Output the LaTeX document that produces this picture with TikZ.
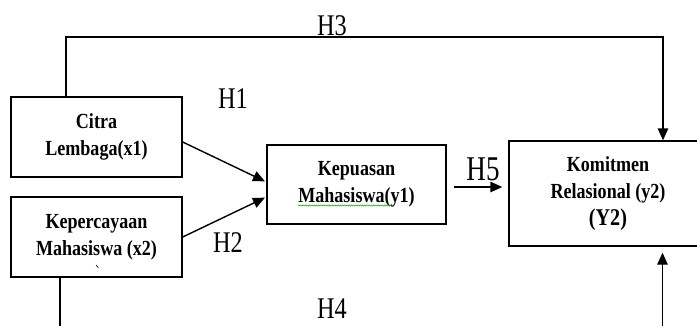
\documentclass[tikz,border=0pt]{standalone}
\usepackage{fontspec}
\usetikzlibrary{arrows.meta,calc,decorations.pathmorphing}
\setmainfont{Liberation Serif}
\newfontfamily\boxfont[FakeStretch=0.84]{Liberation Serif}
\newfontfamily\hfont[FakeStretch=0.81]{Liberation Serif}
\newfontfamily\hbigfont[FakeStretch=0.78]{Liberation Serif}

\tikzset{
  varbox/.style={draw, line width=1.4pt, rectangle, inner sep=0pt, align=center,
    font=\boxfont\bfseries\fontsize{21.5}{27}\selectfont},
  hyplabel/.style={anchor=base, inner sep=0pt, font=\hfont\fontsize{30}{30}\selectfont},
  link/.style={line width=1.4pt},
  arrowlink/.style={link, -{Triangle[length=12pt,width=10.5pt]}}
}

\begin{document}
\begin{tikzpicture}[x=1pt,y=-1pt]
\useasboundingbox (0,0) rectangle (697,325);

% hypothesis labels
\node[hyplabel] (h1) at (233,108) {H1};
\node[hyplabel] (h2) at (228,252) {H2};
\node[hyplabel] (h3) at (332,35) {H3};
\node[hyplabel] (h4) at (332,318.5) {H4};
\node[anchor=base, inner sep=0pt, font=\hbigfont\fontsize{34.7}{34.7}\selectfont] (h5) at (483,180) {H5};

\begin{scope}
\clip (0,0) rectangle (697,325);

% variables
\node[varbox, minimum width=171pt, minimum height=80pt] (citra) at (96.5,137)
  {Citra\\Lembaga(x1)};
\node[varbox, minimum width=171pt, minimum height=80pt] (percaya) at (96.5,237)
  {Kepercayaan\\Mahasiswa (x2)};
\node[varbox, minimum width=179pt, minimum height=79pt] (puas) at (356.5,184.5)
  {Kepuasan\\Mahasiswa(y1)};
\node[varbox, minimum width=198pt, minimum height=105pt] (komit) at (608,193.5)
  {Komitmen\\Relasional (y2)\\{\fontsize{24}{31}\selectfont(Y2)}};

% small stray stroke inside the x2 box
\draw[line width=0.6pt] (96,265) -- (98.5,268);
% spell-check squiggle under Mahasiswa
\draw[green!65!black, line width=0.45pt, decorate,
      decoration={snake, amplitude=0.6pt, segment length=2.2pt}] (298,205.5) -- (392,205.5);

% H3 route over the top
\coordinate (h3a) at (66,37);
\coordinate (h3b) at (663,37);
\draw[arrowlink] (citra.north -| h3a) -- (h3a) -- (h3b) -- (h3b |- komit.north);

% H1, H2
\draw[arrowlink, shorten >=1.5pt] ($(citra.east)+(0,5)$) -- ($(puas.west)+(0,-2.5)$);
\draw[arrowlink, shorten >=1.5pt] (percaya.east) -- ($(puas.west)+(0,12.5)$);

% H5
\draw[arrowlink] ($(puas.east)+(7,2.5)$) -- ($(komit.west |- puas.east)+(-6,2.5)$);

% H4 route along the bottom
\coordinate (x2out) at (60,332);
\coordinate (y2in) at (662.5,332);
\draw[link] (percaya.south -| x2out) -- (x2out);
\draw[arrowlink] (y2in) -- ($(komit.south -| y2in)+(0,6)$);
\end{scope}
\end{tikzpicture}
\end{document}
